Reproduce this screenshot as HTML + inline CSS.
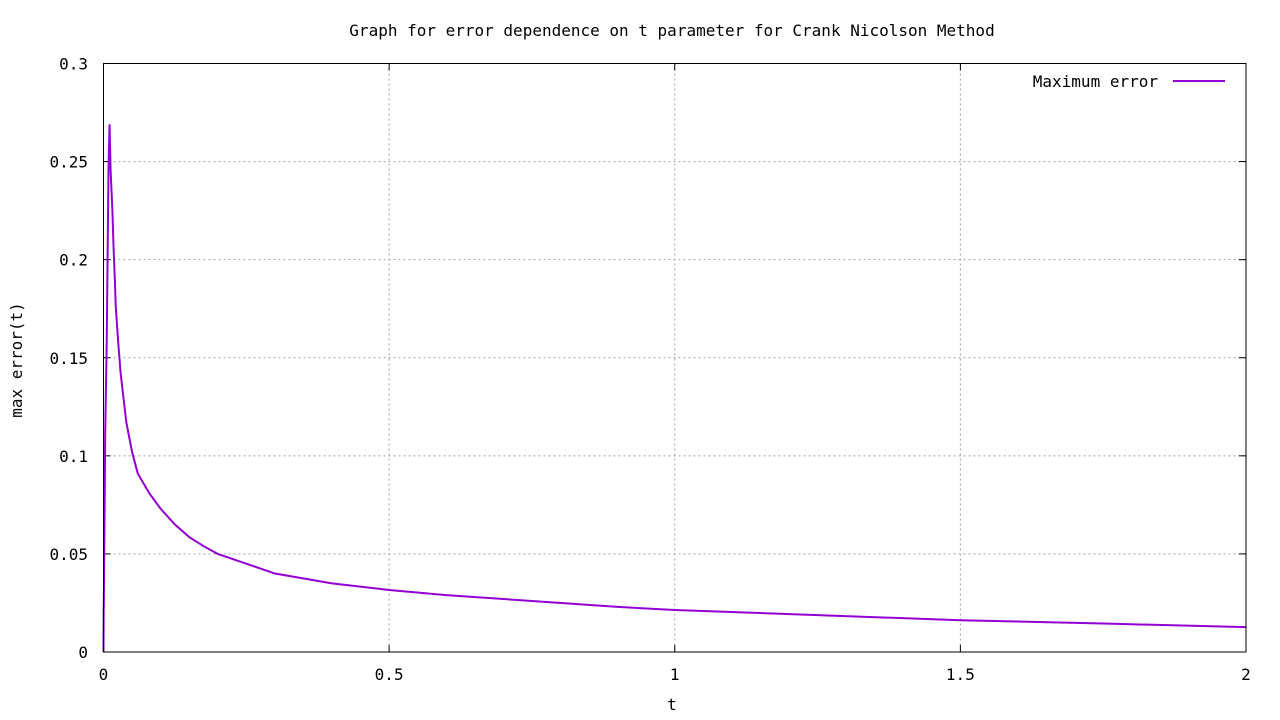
<!DOCTYPE html>
<html><head><meta charset="utf-8"><style>
html,body{margin:0;padding:0;background:#fff;}
svg{display:block;font-family:"DejaVu Sans Mono","Liberation Mono",monospace;font-size:16px;}
</style></head><body>
<svg id="chart" width="1280" height="720">
<text x="672" y="36" text-anchor="middle">Graph for error dependence on t parameter for Crank Nicolson Method</text>
<g id="grid"></g>
<g id="axes"></g>
<path id="series" fill="none" stroke="#9400d3" stroke-width="2"></path>
<rect x="103.5" y="63.5" width="1142.5" height="588.5" fill="none" stroke="#000" stroke-width="1"></rect>
<text x="1158" y="87" text-anchor="end">Maximum error</text>
<line x1="1173" y1="81" x2="1225" y2="81" stroke="#9400d3" stroke-width="2"></line>
<text x="672" y="710" text-anchor="middle">t</text>
<text transform="translate(22,360) rotate(-90)" text-anchor="middle">max error(t)</text>
</svg>
<script>
const tValues=[0,0.0003,0.0005,0.003,0.0056,0.0088,0.0106,0.0125,0.0156,0.0175,0.02,0.0213,0.024,0.026,0.03,0.04,0.05,0.06,0.08,0.1,0.125,0.15,0.175,0.2,0.25,0.3,0.4,0.5,0.6,0.75,0.9,1,1.25,1.5,1.75,2];
const errValues=[0,0.023,0.023,0.112,0.157,0.247,0.269,0.245,0.225,0.207,0.189,0.177,0.165,0.157,0.142,0.117,0.102,0.091,0.081,0.073,0.065,0.0586,0.054,0.050,0.045,0.040,0.035,0.0316,0.029,0.026,0.023,0.0214,0.0188,0.0162,0.0145,0.0127];
const xTicks=[0,0.5,1,1.5,2];
const xTickLabels=["0","0.5","1","1.5","2"];
const yTicks=[0,0.05,0.1,0.15,0.2,0.25,0.3];
const yTickLabels=["0","0.05","0.1","0.15","0.2","0.25","0.3"];
const L=103.5,R=1246,T=63.5,B=652;
function xs(v){return L+(v-0)/(2-0)*(R-L);}
function ys(v){return B-(v-0)/(0.3-0)*(B-T);}
const NS="http://www.w3.org/2000/svg";
const grid=document.getElementById('grid'),axes=document.getElementById('axes');
function mk(tag,attrs,parent){const e=document.createElementNS(NS,tag);for(const k in attrs)e.setAttribute(k,attrs[k]);parent.appendChild(e);return e;}
xTicks.forEach((v,i)=>{
 const x=xs(v);
 if(i>0&&i<xTicks.length-1){
  const g=mk('line',{x1:x,y1:T,x2:x,y2:B,stroke:'#a0a0a0','stroke-dasharray':'2,3','stroke-width':1},grid);
  
  
 }
 const t1=mk('line',{x1:x,y1:B,x2:x,y2:B-7,stroke:'#000'},axes);
 
 
 const t2=mk('line',{x1:x,y1:T,x2:x,y2:T+7,stroke:'#000'},axes);
 
 
 const lb=mk('text',{x:x,y:680,'text-anchor':'middle'},axes);lb.textContent=xTickLabels[i];
 
 
});
yTicks.forEach((v,i)=>{
 const y=ys(v);
 if(i>0&&i<yTicks.length-1){
  const g=mk('line',{x1:L,y1:y,x2:R,y2:y,stroke:'#a0a0a0','stroke-dasharray':'2,3','stroke-width':1},grid);
  
  
 }
 const t1=mk('line',{x1:L,y1:y,x2:L+7,y2:y,stroke:'#000'},axes);
 
 
 const t2=mk('line',{x1:R,y1:y,x2:R-7,y2:y,stroke:'#000'},axes);
 
 
 const lb=mk('text',{x:88,y:y+6,'text-anchor':'end'},axes);lb.textContent=yTickLabels[i];
 
 
});
let d='';
tValues.forEach((t,i)=>{d+=(i?'L':'M')+xs(t).toFixed(2)+','+ys(errValues[i]).toFixed(2);});
document.getElementById('series').setAttribute('d',d);
</script>
</body></html>
